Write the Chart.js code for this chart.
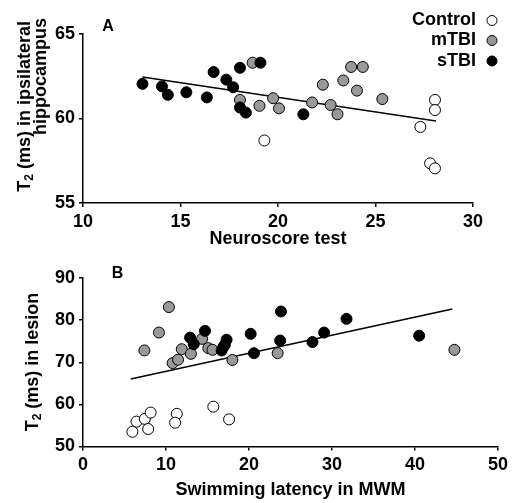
<!DOCTYPE html>
<html>
<head>
<meta charset="utf-8">
<script src="https://cdn.jsdelivr.net/npm/chart.js@4.4.0/dist/chart.umd.min.js"></script>
<style>
  body { margin: 0; background: #fff; }
  #wrap { position: relative; width: 513px; height: 503px; }
  canvas { position: absolute; left: 0; }
  #chartA { top: 0; }
  #chartB { top: 250px; }
</style>
</head>
<body>
<div id="wrap">
  <canvas id="chartA" width="513" height="250"></canvas>
  <canvas id="chartB" width="513" height="253"></canvas>
</div>
<script>
// Panel A : neuroscore vs T2 hippocampe
const neuroControl = [19.3, 28.05, 28.05, 27.3, 27.8, 28.05];
const hippoControl = [58.7, 61.1, 60.5, 59.5, 57.35, 57.05];
const neuroMild = [18.7, 18.05, 19.05, 19.75, 20.05, 21.75, 22.3, 23.35, 23.75, 24.35, 24.05, 25.35, 22.7, 23.05];
const hippoMild = [63.3, 61.1, 60.75, 61.2, 60.6, 60.95, 62.0, 62.25, 63.05, 63.05, 61.65, 61.15, 60.8, 60.25];
const neuroSevere = [13.05, 14.05, 14.35, 15.3, 16.35, 16.7, 17.35, 17.7, 18.05, 19.1, 18.05, 18.35, 21.3];
const hippoSevere = [62.05, 61.9, 61.4, 61.55, 61.25, 62.75, 62.3, 61.85, 63.0, 63.3, 60.65, 60.35, 60.25];
const neuroFit = [13.05, 28.1];
const hippoFit = [62.45, 59.85];

// Panel B : latence MWM vs T2 lésion
const swimControl = [5.95, 6.45, 7.45, 7.85, 8.15, 11.3, 11.1, 15.7, 17.6];
const lesionControl = [53.5, 55.9, 56.55, 54.15, 58.05, 57.75, 55.65, 59.45, 56.45];
const swimMild = [10.35, 9.15, 7.4, 14.35, 11.9, 13.0, 10.8, 11.45, 15.1, 15.6, 16.9, 18.0, 23.45, 44.75];
const lesionMild = [83.1, 77.05, 72.8, 75.55, 73.1, 72.0, 69.8, 70.6, 73.35, 72.95, 73.6, 70.55, 72.15, 72.95];
const swimSevere = [12.9, 13.35, 14.7, 17.3, 17.1, 16.7, 20.2, 20.6, 23.85, 23.75, 27.65, 29.05, 31.75, 40.5];
const lesionSevere = [75.85, 74.3, 77.45, 75.35, 74.15, 72.8, 76.75, 72.15, 82.05, 75.15, 74.8, 77.05, 80.3, 76.3];
const swimFit = [5.75, 44.5];
const lesionFit = [66.0, 82.65];

const groupNames = ["Control", "mTBI", "sTBI"];
const groupColors = ["#ffffff", "#999999", "#000000"];

const FONT = '"Liberation Sans", Arial, Helvetica, sans-serif';
Chart.defaults.font.family = FONT;
Chart.defaults.color = "#000";

function toPoints(xs, ys) {
  return xs.map((x, i) => ({ x: x, y: ys[i] }));
}

function buildDatasets(groups, fit) {
  const sets = groups.map((g, i) => ({
    label: groupNames[i],
    data: toPoints(g[0], g[1]),
    backgroundColor: groupColors[i],
    borderColor: "#000",
    borderWidth: 1,
    pointRadius: 5.5,
    pointHoverRadius: 5.5,
    order: 3 - i,
  }));
  sets.push({
    label: "fit",
    data: toPoints(fit[0], fit[1]),
    showLine: true,
    borderColor: "#000",
    borderWidth: 1.5,
    pointRadius: 0,
    order: 5,
  });
  return sets;
}

// texte avec indice (T2) dessiné en rotation
function drawRich(ctx, parts, align) {
  let total = 0;
  parts.forEach(p => {
    ctx.font = p.sub ? "bold 12px " + FONT : "bold 18px " + FONT;
    p.w = ctx.measureText(p.t).width;
    total += p.w;
  });
  let x = align === "right" ? -total : -total / 2;
  parts.forEach(p => {
    ctx.font = p.sub ? "bold 12px " + FONT : "bold 18px " + FONT;
    ctx.fillText(p.t, x, p.sub ? 5 : 0);
    x += p.w;
  });
}

const decorPlugin = {
  id: "decor",
  afterDraw(chart, args, opts) {
    const ctx = chart.ctx;
    ctx.save();
    ctx.fillStyle = "#000";
    ctx.textBaseline = "middle";

    // lettre du panneau
    ctx.font = "bold 16px " + FONT;
    ctx.textAlign = "center";
    ctx.fillText(opts.letter, opts.letterX, opts.letterY);

    // titre de l'axe y
    ctx.textAlign = "left";
    opts.yTitle.forEach(line => {
      ctx.save();
      ctx.translate(line.x, line.y);
      ctx.rotate(-Math.PI / 2);
      drawRich(ctx, line.parts, line.align);
      ctx.restore();
    });

    // légende (texte puis rond)
    if (opts.legend) {
      const lg = opts.legend;
      groupNames.forEach((name, i) => {
        const y = lg.y[i];
        ctx.font = "bold 18px " + FONT;
        ctx.textAlign = "right";
        ctx.fillStyle = "#000";
        ctx.fillText(name, lg.textRight, y);
        ctx.beginPath();
        ctx.arc(lg.dotX, y, lg.r, 0, Math.PI * 2);
        ctx.fillStyle = groupColors[i];
        ctx.fill();
        ctx.lineWidth = 1;
        ctx.strokeStyle = "#000";
        ctx.stroke();
      });
    }
    ctx.restore();
  },
};

function axisStyle(min, max, step) {
  return {
    type: "linear",
    min: min,
    max: max,
    grid: { display: true, drawOnChartArea: false, drawTicks: true, tickLength: 4, color: "#000", lineWidth: 1.5 },
    border: { display: true, color: "#000", width: 1.5 },
    ticks: { stepSize: step, color: "#000", padding: 4, font: { size: 18, weight: "bold" } },
  };
}

function makeChart(id, cfg) {
  const xAxis = axisStyle(cfg.x[0], cfg.x[1], cfg.x[2]);
  xAxis.title = { display: true, text: cfg.xTitle, color: "#000", padding: { top: 0, bottom: cfg.xTitlePad }, font: { size: 18, weight: "bold" } };
  xAxis.afterFit = s => { s.height = cfg.xHeight; };
  const yAxis = axisStyle(cfg.y[0], cfg.y[1], cfg.y[2]);
  yAxis.afterFit = s => { s.width = 83; };

  return new Chart(document.getElementById(id), {
    type: "scatter",
    data: { datasets: buildDatasets(cfg.groups, cfg.fit) },
    options: {
      responsive: false,
      animation: false,
      layout: { padding: { top: cfg.padTop, right: cfg.padRight, left: 0, bottom: 0 } },
      scales: { x: xAxis, y: yAxis },
      plugins: {
        legend: { display: false },
        tooltip: { enabled: false },
        decor: cfg.decor,
      },
    },
    plugins: [decorPlugin],
  });
}

makeChart("chartA", {
  groups: [[neuroControl, hippoControl], [neuroMild, hippoMild], [neuroSevere, hippoSevere]],
  fit: [neuroFit, hippoFit],
  x: [10, 30, 5],
  y: [55, 65, 5],
  xTitle: "Neuroscore test",
  xTitlePad: 0,
  xHeight: 47,
  padTop: 34,
  padRight: 40,
  decor: {
    letter: "A", letterX: 108, letterY: 27,
    yTitle: [
      { x: 25, y: 21, align: "right", parts: [{ t: "T" }, { t: "2", sub: true }, { t: " (ms) in ipsilateral" }] },
      { x: 41, y: 18, align: "right", parts: [{ t: "hippocampus" }] },
    ],
    legend: { textRight: 476, dotX: 492, r: 5, y: [20.5, 40.5, 61] },
  },
});

makeChart("chartB", {
  groups: [[swimControl, lesionControl], [swimMild, lesionMild], [swimSevere, lesionSevere]],
  fit: [swimFit, lesionFit],
  x: [0, 50, 10],
  y: [50, 90, 10],
  xTitle: "Swimming latency in MWM",
  xTitlePad: 2,
  xHeight: 56.5,
  padTop: 28,
  padRight: 15,
  decor: {
    letter: "B", letterX: 117.5, letterY: 24,
    yTitle: [
      { x: 33, y: 112, align: "center", parts: [{ t: "T" }, { t: "2", sub: true }, { t: " (ms) in lesion" }] },
    ],
    legend: null,
  },
});
</script>
</body>
</html>
